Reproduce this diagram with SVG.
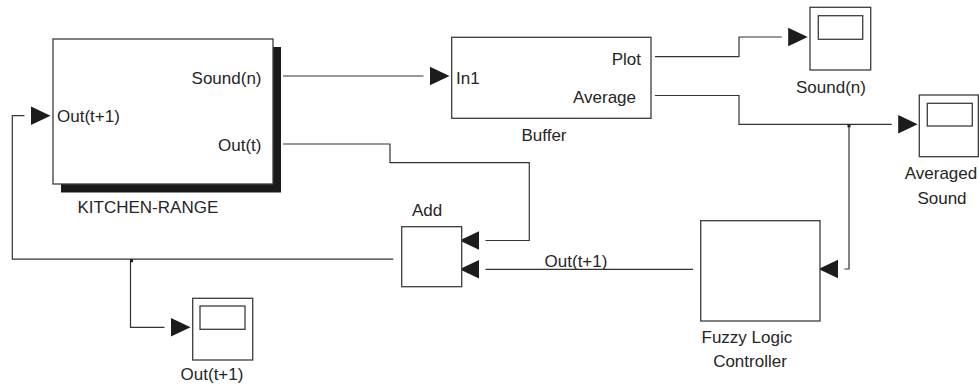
<svg xmlns="http://www.w3.org/2000/svg" width="979" height="385" viewBox="0 0 979 385">
  <style>
    .blk { fill: #ffffff; stroke: #3c3c3c; stroke-width: 1.3; }
    .wire { fill: none; stroke: #333333; stroke-width: 1.2; }
    .lbl { font-family: "Liberation Sans", Arial, sans-serif; font-size: 17px; fill: #262626; }
    .mid { text-anchor: middle; }
    .end { text-anchor: end; }
  </style>
  <defs>
    <marker id="arr" markerUnits="userSpaceOnUse" markerWidth="40" markerHeight="30" refX="-6.5" refY="0" orient="auto" overflow="visible">
      <path d="M0,-9.3 L19.5,0 L0,9.3 z" fill="#1c1c1c"/>
    </marker>
  </defs>
  <rect width="979" height="385" fill="#ffffff"/>

  <!-- connectors -->
  <g id="connectors">
    <!-- Sound(n) to Buffer In1 -->
    <path class="wire" d="M283,76 H423.5" marker-end="url(#arr)"/>
    <!-- Out(t) to Add upper input -->
    <path class="wire" d="M283,144 H390 V162.7 H529.3 V240.5 H485.5" marker-end="url(#arr)"/>
    <!-- Plot to Sound(n) scope -->
    <path class="wire" d="M655,56.7 H739 V37 H781.7" marker-end="url(#arr)"/>
    <!-- Average to Averaged Sound scope -->
    <path class="wire" d="M655,95.5 H739 V124.3 H891.7" marker-end="url(#arr)"/>
    <!-- branch to Fuzzy Logic Controller -->
    <path class="wire" d="M849,124.3 V269 H844.5" marker-end="url(#arr)"/>
    <rect x="847.5" y="124.3" width="3" height="3" fill="#1c1c1c"/>
    <!-- Fuzzy output to Add lower input -->
    <path class="wire" d="M693,269.3 H485.5" marker-end="url(#arr)"/>
    <text class="lbl mid" x="576" y="267">Out(t+1)</text>
    <!-- Add output fed back to KITCHEN-RANGE -->
    <path class="wire" d="M393.3,259.2 H12.3 V115.7 H24.5" marker-end="url(#arr)"/>
    <!-- branch to Out(t+1) scope -->
    <path class="wire" d="M130.5,259.2 V327.3 H164.5" marker-end="url(#arr)"/>
    <rect x="130" y="259.2" width="3" height="3" fill="#1c1c1c"/>
  </g>

  <!-- KITCHEN-RANGE subsystem -->
  <g id="kitchen-range">
    <rect x="61" y="47" width="220" height="145.5" fill="#1a1a1a"/>
    <rect class="blk" x="53" y="39" width="220" height="145"/>
    <text class="lbl end" x="261.5" y="84">Sound(n)</text>
    <text class="lbl" x="57" y="121.5">Out(t+1)</text>
    <text class="lbl end" x="261.5" y="151">Out(t)</text>
    <text class="lbl" x="77.5" y="212.5">KITCHEN-RANGE</text>
  </g>

  <!-- Buffer -->
  <g id="buffer">
    <rect class="blk" x="451.7" y="37.3" width="199.3" height="81"/>
    <text class="lbl" x="456" y="84">In1</text>
    <text class="lbl end" x="641" y="64.5">Plot</text>
    <text class="lbl end" x="636" y="103">Average</text>
    <text class="lbl mid" x="544" y="140.5">Buffer</text>
  </g>

  <!-- Sound(n) scope -->
  <g id="scope-sound">
    <rect class="blk" x="810" y="7.3" width="60.7" height="62.7"/>
    <rect class="blk" x="818.3" y="15.7" width="44.4" height="23.6"/>
    <text class="lbl mid" x="831" y="93">Sound(n)</text>
  </g>

  <!-- Averaged Sound scope -->
  <g id="scope-averaged">
    <rect class="blk" x="919.3" y="95" width="59" height="61.7"/>
    <rect class="blk" x="927.3" y="103.3" width="45" height="22.7"/>
    <text class="lbl mid" x="941" y="178.5">Averaged</text>
    <text class="lbl mid" x="942" y="203.5">Sound</text>
  </g>

  <!-- Add -->
  <g id="add">
    <rect class="blk" x="401.7" y="226.7" width="60" height="60"/>
    <text class="lbl mid" x="427" y="215.5">Add</text>
  </g>

  <!-- Fuzzy Logic Controller -->
  <g id="fuzzy">
    <rect class="blk" x="700.7" y="220.7" width="119.3" height="100.3"/>
    <text class="lbl" x="701.5" y="342.5">Fuzzy Logic</text>
    <text class="lbl mid" x="750" y="367">Controller</text>
  </g>

  <!-- Out(t+1) scope -->
  <g id="scope-out">
    <rect class="blk" x="192.7" y="298.3" width="60" height="61.7"/>
    <rect class="blk" x="200" y="306" width="45" height="23.3"/>
    <text class="lbl mid" x="212" y="379.5">Out(t+1)</text>
  </g>
</svg>
